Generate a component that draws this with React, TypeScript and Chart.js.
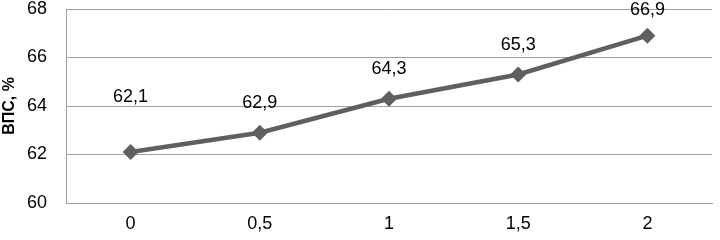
import React, { useEffect, useRef } from "react";
import { Chart, registerables } from "chart.js";

Chart.register(...registerables);

const categories = ["0", "0,5", "1", "1,5", "2"];
const values = [62.1, 62.9, 64.3, 65.3, 66.9];
const yTicks = [60, 62, 64, 66, 68];
const yTitle = "ВПС, %";

const FONT = "'Liberation Sans', Arial, sans-serif";

const labelPlugin = {
  id: "pointLabels",
  afterDatasetsDraw(chart: any, _args: any, opts: any) {
    const { ctx } = chart;
    const meta = chart.getDatasetMeta(0);
    const offsets: number[] = opts.offsets || [];
    ctx.save();
    ctx.font = `18px ${FONT}`;
    ctx.fillStyle = "#000";
    ctx.textAlign = "center";
    ctx.textBaseline = "middle";
    meta.data.forEach((pt: any, i: number) => {
      const v = values[i].toFixed(1).replace(".", ",");
      const off = offsets[i] ?? 30;
      ctx.fillText(v, pt.x, pt.y - off);
    });
    ctx.restore();
  },
};

export default function App() {
  const ref = useRef<HTMLCanvasElement>(null);
  useEffect(() => {
    if (!ref.current) return;
    const chart = new Chart(ref.current, {
      type: "line",
      data: {
        labels: categories,
        datasets: [
          {
            data: values,
            borderColor: "#5f5f5f",
            backgroundColor: "#5f5f5f",
            borderWidth: 4.5,
            pointStyle: "rectRot",
            pointRadius: 8,
            pointBorderWidth: 0,
            tension: 0,
          },
        ],
      },
      options: {
        responsive: false,
        animation: false,
        layout: { padding: { left: 0, right: 1, top: 9, bottom: 0 } },
        plugins: {
          legend: { display: false },
          tooltip: { enabled: false },
          pointLabels: { offsets: [55, 30, 30, 29, 26] },
        } as any,
        scales: {
          x: {
            offset: true,
            grid: { display: false, drawTicks: false },
            border: { display: true, color: "#a0a0a0", width: 1 },
            ticks: { color: "#000", font: { family: FONT, size: 18 }, padding: 10 },
            afterFit: (s: any) => {
              s.height = 37;
              s.paddingLeft = 0;
              s.paddingRight = 0;
            },
          },
          y: {
            min: 60,
            max: 68,
            afterBuildTicks: (s: any) => {
              s.ticks = yTicks.map((v) => ({ value: v }));
            },
            grid: { color: "#a0a0a0", drawTicks: false, lineWidth: 1 },
            border: { display: true, color: "#a0a0a0", width: 1 },
            ticks: { color: "#000", font: { family: FONT, size: 18 }, padding: 19 },
            title: {
              display: true,
              text: yTitle,
              color: "#000",
              font: { family: FONT, size: 16, weight: "bold" },
              padding: { top: 0, bottom: 0 },
            },
            afterFit: (s: any) => {
              s.width = 66;
              s.paddingTop = 0;
              s.paddingBottom = 0;
            },
          },
        },
      },
      plugins: [labelPlugin],
    });
    return () => chart.destroy();
  }, []);
  return (
    <div style={{ position: "fixed", left: 0, top: 0, width: 720, height: 240, background: "#fff" }}>
      <canvas ref={ref} width={720} height={240} style={{ width: 720, height: 240 }} />
    </div>
  );
}
